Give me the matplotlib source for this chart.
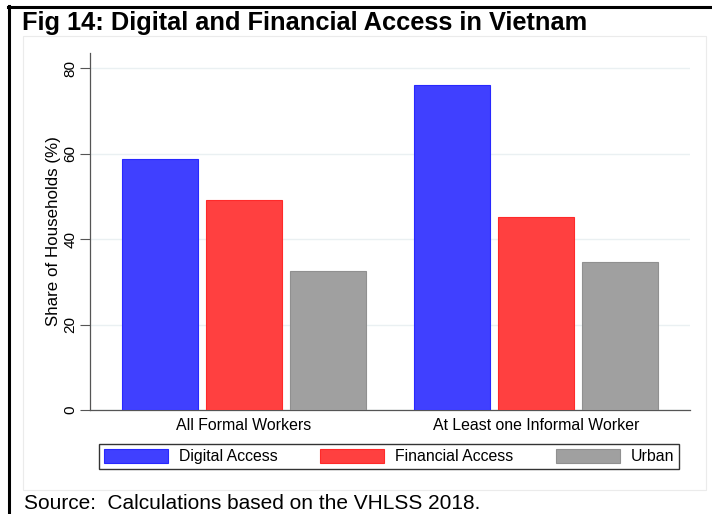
import matplotlib
matplotlib.use("Agg")
import matplotlib.pyplot as plt
import numpy as np
from matplotlib.lines import Line2D
from matplotlib.patches import Rectangle

plt.rcParams['font.family'] = ['Liberation Sans', 'DejaVu Sans']

categories = ["All Formal Workers", "At Least one Informal Worker"]
series = ["Digital Access", "Financial Access", "Urban"]
digital = [58.8, 76.1]
financial = [49.1, 45.2]
urban = [32.5, 34.6]
yticks = [0, 20, 40, 60, 80]

colors = ["#4040ff", "#ff4040", "#a0a0a0"]
edges = ["#2828ff", "#ff2a2a", "#909090"]

W, H = 712, 514
fig = plt.figure(figsize=(W/100, H/100), dpi=100)

def fx(px):
    return px / W

def fy(py):
    return 1 - py / H

ax = fig.add_axes([fx(90), fy(410), fx(690) - fx(90), fy(52.7) - fy(410)])

x = np.arange(len(categories))
pitch = 84 / 292
width = 76 / 292
for i, (vals, c, e, name) in enumerate(zip([digital, financial, urban], colors, edges, series)):
    ax.bar(x + (i - 1) * pitch, vals, width=width, color=c, edgecolor=e, linewidth=0.8, label=name, zorder=3)

ax.set_xlim(-0.5274, 1.5274)
ax.set_ylim(0, 83.6)
ax.set_yticks(yticks)
ax.set_yticklabels([str(v) for v in yticks], rotation=90, va='center', fontsize=11)
ax.set_xticks(x)
ax.set_xticklabels(categories, fontsize=11.4)
ax.tick_params(axis='x', length=0, pad=6)
ax.tick_params(axis='y', length=7, width=0.8, color='#555555', pad=2)
ax.grid(axis='y', color='#eaf0f2', linewidth=1.0, zorder=0)
for s in ['top', 'right']:
    ax.spines[s].set_visible(False)
for s in ['left', 'bottom']:
    ax.spines[s].set_color('#555555')
    ax.spines[s].set_linewidth(0.9)
ax.set_ylabel("Share of Households (%)", fontsize=12.2)
ax.yaxis.set_label_coords(-0.048, 0.5)

handles = [Rectangle((0, 0), 1, 1, facecolor=c, edgecolor=e, linewidth=0.8) for c, e in zip(colors, edges)]
leg = fig.legend(handles, series, loc='lower left',
                 bbox_to_anchor=(fx(99), fy(469), fx(679) - fx(99), fy(441) - fy(469)),
                 mode='expand', ncol=3, borderaxespad=0, fontsize=11.4,
                 handlelength=4.05, handleheight=0.95, handletextpad=0.7,
                 borderpad=0.3, fancybox=False, framealpha=1)
leg.get_frame().set_edgecolor('#333333')
leg.get_frame().set_linewidth(1.0)

# panel box
fig.add_artist(Rectangle((fx(23), fy(490)), fx(706) - fx(23), fy(36) - fy(490),
                         transform=fig.transFigure, fill=False, edgecolor='#ebebeb', linewidth=0.8))
# outer black frame lines
fig.add_artist(Line2D([fx(8), 1], [fy(6.5), fy(6.5)], transform=fig.transFigure, color='black', linewidth=2.2))
fig.add_artist(Line2D([fx(8.5), fx(8.5)], [fy(6), 0], transform=fig.transFigure, color='black', linewidth=2.2))

fig.text(fx(22), fy(30), "Fig 14: Digital and Financial Access in Vietnam", fontsize=18.3,
         fontweight='bold', ha='left', va='baseline')
fig.text(fx(24), fy(509), "Source:  Calculations based on the VHLSS 2018.", fontsize=15.0,
         ha='left', va='baseline')

fig.savefig("out.png", dpi=100)
